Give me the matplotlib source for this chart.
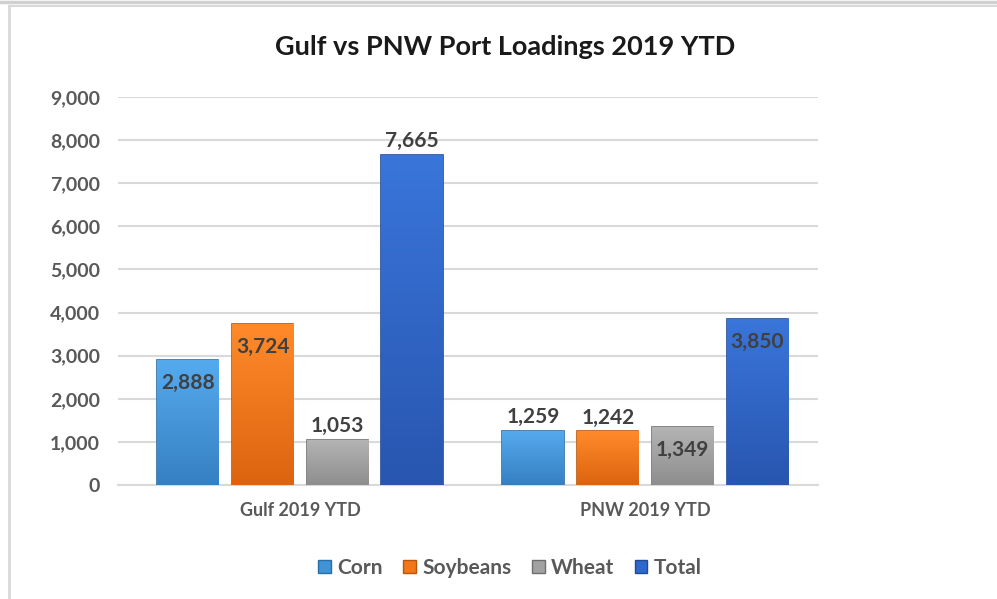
import matplotlib
matplotlib.use("Agg")
import matplotlib.pyplot as plt
from matplotlib.lines import Line2D
from matplotlib.colors import LinearSegmentedColormap
import numpy as np

plt.rcParams['font.family'] = ['Lato', 'DejaVu Sans']

categories = ['Gulf 2019 YTD', 'PNW 2019 YTD']
series = ['Corn', 'Soybeans', 'Wheat', 'Total']
corn = [2888, 1259]
soybeans = [3724, 1242]
wheat = [1053, 1349]
total = [7665, 3850]
# label inside the bar end (True) or above it (False)
inside = {
  'Corn': [True, False],
  'Soybeans': [True, False],
  'Wheat': [False, True],
  'Total': [False, True],
}

colors = ['#3f93d6', '#f27719', '#a2a2a2', '#2f68cc']
tops = ['#55aaee', '#ff8a2a', '#b4b4b4', '#3a75da']
bottoms = ['#3680c2', '#dc6410', '#8e8e8e', '#2856b0']
edges = ['#2a6ea8', '#b9560c', '#6f6f6f', '#1f4a96']
grey = '#595959'

fig = plt.figure(figsize=(9.97, 5.99), dpi=100)
ax = fig.add_axes([118 / 997, 1 - 485 / 599, 700 / 997, 388 / 599])

x = np.arange(len(categories))
width = 0.177
step = 0.2165
values = [corn, soybeans, wheat, total]
grad = np.linspace(1, 0, 64).reshape(-1, 1)
for i, (name, vals) in enumerate(zip(series, values)):
  pos = x + (i - 1.5) * step
  bars = ax.bar(pos, vals, width, color=colors[i], edgecolor=edges[i], linewidth=1.2, label=name, zorder=3)
  cmap = LinearSegmentedColormap.from_list(name, [bottoms[i], tops[i]])
  for j, b in enumerate(bars):
    h = b.get_height()
    # vertical shading inside the bar
    im = ax.imshow(grad, cmap=cmap, aspect='auto', zorder=3.1,
                   extent=(b.get_x(), b.get_x() + b.get_width(), 0, h))
    im.set_clip_path(b)
    if inside[name][j]:
      ax.text(b.get_x() + b.get_width() / 2, h - 300, f'{h:,.0f}', ha='center', va='top',
              fontsize=15, fontweight='bold', color='#404040', zorder=4)
    else:
      ax.text(b.get_x() + b.get_width() / 2, h + 90, f'{h:,.0f}', ha='center', va='bottom',
              fontsize=15, fontweight='bold', color='#404040', zorder=4)

ax.set_xlim(-0.527, 1.501)
ax.set_ylim(0, 9000)
ax.set_yticks(range(0, 9001, 1000))
ax.set_yticklabels([f'{v:,}' for v in range(0, 9001, 1000)], fontsize=14, fontweight='bold', color=grey)
ax.set_xticks(x)
ax.set_xticklabels(categories, fontsize=13, fontweight='bold', color=grey)
ax.tick_params(axis='y', length=0, pad=13)
ax.tick_params(axis='x', length=0, pad=12)
ax.grid(axis='y', color='#d9d9d9', linewidth=1.5, zorder=0)
for s in ['top', 'right', 'left']:
  ax.spines[s].set_visible(False)
ax.spines['bottom'].set_color('#d9d9d9')
ax.spines['bottom'].set_linewidth(1.5)

fig.text(505 / 997, 1 - 47 / 599, 'Gulf vs PNW Port Loadings 2019 YTD', ha='center', va='center',
         fontsize=19.5, fontweight='bold', color='#1a1a1a')

handles = [plt.Rectangle((0, 0), 1, 1, facecolor=c, edgecolor=e) for c, e in zip(colors, edges)]
fig.legend(handles, series, loc='center', bbox_to_anchor=(510 / 997, 1 - 568 / 599), ncol=4, frameon=False,
           prop={'size': 15, 'weight': 'bold'}, labelcolor=grey, handlelength=0.6, handleheight=0.6,
           handletextpad=0.3, columnspacing=1.0)

# chart frame
fig.add_artist(Line2D([0, 1], [1 - 1.5 / 599] * 2, color='#d0d0d0', linewidth=2.5, transform=fig.transFigure))
fig.add_artist(Line2D([9 / 997, 1], [1 - 6 / 599] * 2, color='#d9d9d9', linewidth=1.5, transform=fig.transFigure))
fig.add_artist(Line2D([9 / 997] * 2, [0, 1 - 6 / 599], color='#d9d9d9', linewidth=2, transform=fig.transFigure))

fig.savefig('out.png', dpi=100)
